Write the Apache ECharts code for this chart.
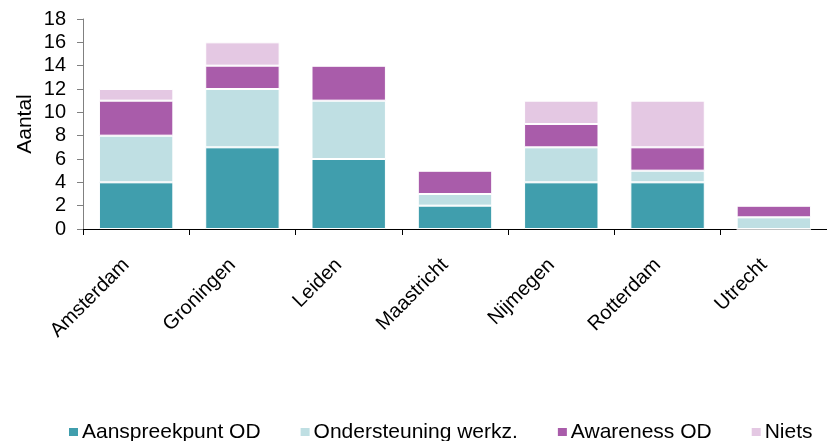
<!DOCTYPE html>
<html><head><meta charset="utf-8">
<script src="https://cdn.jsdelivr.net/npm/echarts@6/dist/echarts.min.js"></script>
<style>html,body{margin:0;padding:0;background:#fff}#c{width:827px;height:441px}</style>
</head><body><div id="c"></div>
<script>
const categories = ['Amsterdam','Groningen','Leiden','Maastricht','Nijmegen','Rotterdam','Utrecht'];
const seriesNames = ['Aanspreekpunt OD','Ondersteuning werkz.','Awareness OD','Niets'];
const aanspreekpunt = [4,7,6,2,4,4,0];
const ondersteuning = [4,5,5,1,3,1,1];
const awareness = [3,2,3,2,2,2,1];
const niets = [1,2,0,0,2,4,0];
const colors = ['#409ead','#bfdfe3','#a95caa','#e4c8e3'];
const values = [aanspreekpunt, ondersteuning, awareness, niets];
const font = 'Liberation Sans, Arial, sans-serif';
const chart = echarts.init(document.getElementById('c'));
chart.setOption({
  animation:false,
  grid:{left:83,top:19,width:747,height:210,containLabel:false},
  legend:{top:416,left:62,itemWidth:11,itemHeight:10,itemGap:38,icon:'rect',
    textStyle:{fontFamily:font,fontSize:21,lineHeight:22,color:'#000',padding:[0,0,0,-2]},
    data:seriesNames},
  xAxis:{type:'category',data:categories,
    axisLine:{lineStyle:{color:'#000',width:1}},
    axisTick:{show:true,alignWithLabel:false,length:6,lineStyle:{color:'#000'}},
    axisLabel:{rotate:45,fontFamily:font,fontSize:20,color:'#000',margin:23,interval:0,padding:[0,14,0,0]}},
  yAxis:{type:'value',min:0,max:18,interval:2,name:'Aantal',nameLocation:'middle',nameGap:47,
    nameMoveOverlap:false,
    nameTextStyle:{fontFamily:font,fontSize:21,color:'#000'},
    axisLine:{show:true,lineStyle:{color:'#808080',width:1}},
    axisTick:{show:true,length:6,lineStyle:{color:'#808080'}},
    splitLine:{show:false},
    axisLabel:{fontFamily:font,fontSize:20,color:'#000',margin:17}},
  series: seriesNames.map((n,i)=>({name:n,type:'bar',stack:'t',data:values[i],
    barCategoryGap:'30%',
    itemStyle:{color:colors[i],borderColor:'#fff',borderWidth:1}}))
});
</script></body></html>
